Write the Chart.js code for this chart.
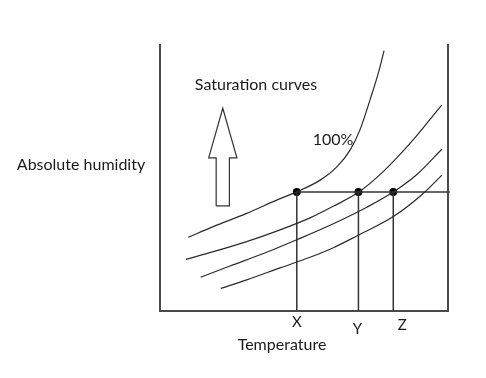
<!DOCTYPE html>
<html>
<head>
<meta charset="utf-8">
<title>Saturation curves</title>
<script src="https://cdn.jsdelivr.net/npm/chart.js@4"></script>
<style>
  html,body{margin:0;padding:0;background:#fff;}
  canvas{display:block;}
</style>
</head>
<body>
<canvas id="chart" width="486" height="378"></canvas>
<script>
// === Dados (eixos 0-100) ===
const temp100 = [9.8, 18.5, 30.1, 40.5, 47.5, 55.6, 61.4, 66.0, 69.4, 72.9, 75.8, 77.8];
const hum100  = [27.7, 31.7, 36.7, 41.7, 44.8, 49.2, 54.2, 60.5, 68.0, 79.3, 89.4, 97.9];

const tempB = [9.0, 18.5, 30.1, 41.7, 52.1, 60.2, 68.9, 77.5, 86.8, 97.8];
const humB  = [19.4, 22.3, 26.1, 30.5, 35.0, 39.4, 44.6, 52.4, 63.0, 77.4];

const tempC = [14.1, 24.3, 35.9, 47.5, 60.2, 71.8, 81.0, 89.1, 97.9];
const humC  = [12.7, 16.9, 21.6, 26.8, 32.8, 39.0, 44.7, 51.2, 60.9];

const tempD = [21.1, 30.1, 41.7, 52.1, 60.2, 68.3, 81.0, 91.4, 97.9];
const humD  = [8.5, 11.7, 16.2, 20.2, 23.8, 28.2, 35.5, 44.2, 51.1];

// pontos X, Y, Z na mesma umidade
const markTemps  = [47.5, 68.9, 81.0];
const markLabels = ["X", "Y", "Z"];
const markHum    = 44.7;
const lineEndTemp = 100.6;

// seta "para cima" (contorno)
const arrowX = [19.5, 19.5, 16.9, 21.8, 26.7, 24.1, 24.1, 19.5];
const arrowY = [39.5, 57.6, 57.6, 76.2, 57.6, 57.6, 39.5, 39.5];

const curveLabel = "100%";
const titleText  = "Saturation curves";
const xTitle = "Temperature";
const yTitle = "Absolute humidity";

// === Helpers ===
function pts(xs, ys){
  return xs.map((x,i)=>({x:x, y:ys[i]}));
}

function curve(xs, ys){
  return {
    data: pts(xs, ys),
    showLine: true,
    borderColor: "#2b2b2b",
    borderWidth: 1.2,
    pointRadius: 0,
    cubicInterpolationMode: "monotone",
    fill: false
  };
}

function segment(data){
  return {data, showLine:true, borderColor:"#333", borderWidth:1.5, pointRadius:0, tension:0, fill:false, clip:4};
}

const datasets = [
  curve(temp100, hum100),
  curve(tempB, humB),
  curve(tempC, humC),
  curve(tempD, humD),
  segment([{x:markTemps[0], y:markHum}, {x:lineEndTemp, y:markHum}])
];
markTemps.forEach(t=>{
  datasets.push(segment([{x:t, y:markHum}, {x:t, y:0}]));
});
datasets.push({
  data: pts(arrowX, arrowY), showLine:true, borderColor:"#333", borderWidth:1.2,
  pointRadius:0, tension:0, fill:false
});
datasets.push({
  data: markTemps.map(t=>({x:t, y:markHum})),
  showLine:false, pointRadius:4, pointBackgroundColor:"#000", pointBorderColor:"#000", borderWidth:0
});

// === Textos (posições em pixels da figura) ===
const FONT = "Lato, 'DejaVu Sans', sans-serif";
const texts = [
  {t:titleText,  x:256, y:85,  size:16},
  {t:curveLabel, x:333, y:140, size:16},
  {t:yTitle,     x:81,  y:165, size:16},
  {t:xTitle,     x:282, y:345, size:16}
];
const tickOffsets = [{dx:0, y:322}, {dx:-1, y:329}, {dx:9, y:325}];

const textPlugin = {
  id: "textos",
  afterDraw(chart){
    const ctx = chart.ctx;
    const xs = chart.scales.x;
    ctx.save();
    ctx.fillStyle = "#1a1a1a";
    ctx.textAlign = "center";
    ctx.textBaseline = "middle";
    texts.forEach(o=>{
      ctx.font = o.size + "px " + FONT;
      ctx.fillText(o.t, o.x, o.y);
    });
    ctx.font = "15px " + FONT;
    markLabels.forEach((lab,i)=>{
      const px = xs.getPixelForValue(markTemps[i]) + tickOffsets[i].dx;
      ctx.fillText(lab, px, tickOffsets[i].y);
    });
    ctx.restore();
  }
};

function noSize(scale){
  if(scale.isHorizontal()) scale.height = 0; else scale.width = 0;
}

const axisCommon = {
  type: "linear", min: 0, max: 100,
  ticks: {display:false},
  grid: {display:false, drawTicks:false},
  border: {display:true, color:"#4a4a4a", width:2},
  afterFit: noSize
};

new Chart(document.getElementById("chart"), {
  type: "scatter",
  data: {datasets},
  options: {
    responsive: false,
    animation: false,
    layout: {padding:{left:160, right:38, top:45, bottom:67}},
    plugins: {legend:{display:false}, tooltip:{enabled:false}},
    scales: {
      x: Object.assign({}, axisCommon, {position:"bottom"}),
      y: Object.assign({}, axisCommon, {position:"left"}),
      y2: Object.assign({}, axisCommon, {position:"right"})
    }
  },
  plugins: [textPlugin]
});
</script>
</body>
</html>
